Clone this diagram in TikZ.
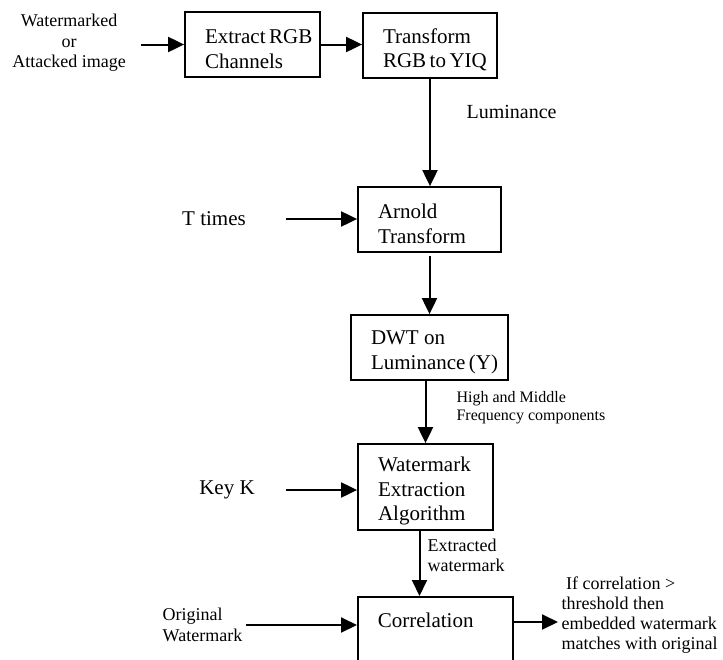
\documentclass[tikz,border=0pt]{standalone}
\usepackage{fontspec}
\setmainfont{Liberation Serif}
\usetikzlibrary{arrows.meta}

\tikzset{
  box/.style={draw, line width=1.8pt, inner xsep=20pt, inner ysep=0pt, minimum height=65pt, text height=23pt, align=flush left, font=\fontsize{21}{24.5}\selectfont},
  big/.style={font=\fontsize{21}{24}\selectfont},
  mid/.style={align=flush left, font=\fontsize{18}{20.5}\selectfont},
  small/.style={align=flush left, font=\fontsize{16}{18}\selectfont},
  arr/.style={line width=2pt, -{Triangle[length=16pt,width=15pt]}}
}

\begin{document}
\begin{tikzpicture}[x=1pt,y=-1pt]
      \useasboundingbox (0,0) rectangle (723,659);
      \clip (0,0) rectangle (723,659);

      \node[box, text width=95pt] (extract) at (252.5,44.5) {Extract~RGB\\Channels};
      \node[box, text width=94pt] (yiq) at (430,45.5) {Transform\\RGB~to~YIQ};
      \node[box, text width=103pt] (arnold) at (429.5,219.5) {Arnold\\Transform};
      \node[box, text width=117pt] (dwt) at (429.5,347.5) {DWT~on\\Luminance~(Y)};
      \node[box, text width=95pt, minimum height=86pt] (wea) at (425.5,487) {Watermark\\Extraction\\Algorithm};
      \node[box, text width=115pt, anchor=north west, inner ysep=8pt, text height=23pt, text depth=100pt] (corr) at (357,596) {Correlation};

      \node[mid, align=center] (input) at (69,43) {Watermarked\\or\\Attacked image};
      \node[big] (ttimes) at (214,219) {T times};
      \node[big] (key) at (227,490) {Key K};
      \node[mid] (orig) at (202.5,625) {Original\\Watermark};
      \node[big, font=\fontsize{20}{24}\selectfont, anchor=west] (lum) at (463,112) {Luminance};
      \node[small, anchor=west] (freq) at (453,408) {High and Middle\\Frequency components};
      \node[mid, anchor=west] (extr) at (424,555.5) {Extracted\\watermark};
      \node[mid, font=\fontsize{18}{20}\selectfont, anchor=west] (result) at (558,615) {\ If correlation >\\threshold then\\embedded watermark\\matches with original};

      \draw[arr, shorten <=12pt] (input.east |- extract.west) -- (extract.west);
      \draw[arr] (extract.east) -- (extract.east -| yiq.west);
      \draw[arr] (yiq.south) -- (yiq.south |- arnold.north);
      \draw[arr, shorten <=37pt] (ttimes.east) -- (ttimes.east -| arnold.west);
      \draw[arr, shorten <=3pt] (arnold.south) -- (arnold.south |- dwt.north);
      \draw[arr] (wea.north |- dwt.south) -- (wea.north);
      \draw[arr, shorten <=28pt] (key.east) -- (key.east -| wea.west);
      \draw[arr] ([xshift=-6pt]wea.south) -- ([xshift=-6pt]wea.south |- corr.north);
      \draw[arr] (orig.east) -- (orig.east -| corr.west);
      \draw[arr] ([yshift=-26pt]corr.north east) -- ([yshift=-26pt]corr.north east -| result.west);
    \end{tikzpicture}
\end{document}
